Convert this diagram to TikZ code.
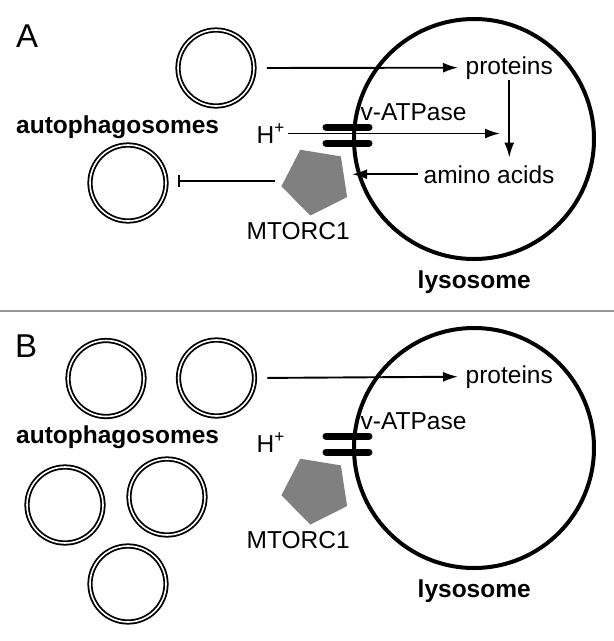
\documentclass[tikz,border=0pt]{standalone}
\usepackage{fontspec}
\setmainfont{Liberation Sans}
\usetikzlibrary{arrows.meta,shapes.geometric}
\definecolor{mtorgray}{RGB}{128,128,128}
\definecolor{rulegray}{RGB}{150,150,150}

\begin{document}
\begin{tikzpicture}[x=1pt, y=-1pt, >={Latex[length=15pt,width=10pt]},
    every node/.style={inner sep=0pt, font=\fontsize{24.5}{29}\selectfont},
    paneltag/.style={font=\fontsize{33}{38}\selectfont},
    boldtxt/.style={font=\fontsize{24.5}{29}\selectfont\bfseries},
    lyso/.style={draw, circle, line width=4pt, minimum size=240pt},
    vesicle/.style={draw, circle, line width=1.8pt, double, double distance=1.6pt, minimum size=76pt},
    mtor/.style={regular polygon, regular polygon sides=5, fill=mtorgray, minimum size=70pt, shape border rotate=26.7},
    pump/.style={line width=7pt, line cap=round},
    flow/.style={->, line width=1.9pt},
    block/.style={-{Bar[width=12pt]}, line width=1.9pt}]

    % ==== FRAME ====
    \useasboundingbox (0,0) rectangle (614,641);
    \draw[rulegray, line width=1.5pt] (0,311) -- (614,311);

    % ==== PANEL A ====
    \node[paneltag, anchor=base west] (tagA) at (16,47) {A};
    \node[vesicle] (vesA1) at (216,68) {};
    \node[vesicle] (vesA2) at (128,183) {};
    \node[boldtxt, anchor=base west] (autoA) at (16,133) {autophagosomes};
    \node[lyso] (lysoA) at (474,139) {};
    \node[anchor=base west] (protA) at (465.5,74) {proteins};
    \node[anchor=base west] (aminoA) at (423.5,183) {amino acids};
    \node[anchor=base west] (vatpA) at (360.5,120) {v-ATPase};
    \node[anchor=base west] (hA) at (256.5,143) {H\textsuperscript{+}};
    \node[mtor] (mtorA) at (316,181) {};
    \node[anchor=base west] (mlabA) at (246.5,239) {MTORC1};
    \node[boldtxt, anchor=base west] (llabA) at (417.5,288) {lysosome};
    \coordinate (hEndA) at (500,135);

    % v-ATPase bars
    \draw[pump] (326,127) -- (369,127);
    \draw[pump] (326,143) -- (369,143);

    % ==== ARROWS A ====
    \draw[flow, shorten <=12pt, shorten >=7.5pt] (vesA1.east) -- (protA.west);
    \draw[flow, shorten <=1pt, shorten >=7.5pt] (protA.south) -- (protA.south |- aminoA.north);
    \draw[flow, shorten <=3pt] (hA.east) -- (hA.east -| hEndA);
    \draw[flow, shorten <=5.5pt] (aminoA.west) -- (aminoA.west -| lysoA.west);
    \draw[block, shorten <=9pt, shorten >=11pt] (mtorA.west) -- (mtorA.west -| vesA2.east);

    % ==== PANEL B ====
    \begin{scope}[shift={(0,309)}]
        \node[paneltag, anchor=base west] (tagB) at (15,48) {B};
        \node[vesicle] (vesB1) at (106,69.5) {};
        \node[vesicle] (vesB2) at (216.5,69) {};
        \node[vesicle] (vesB3) at (65,196) {};
        \node[vesicle] (vesB4) at (167,188) {};
        \node[vesicle] (vesB5) at (128,275) {};
        \node[boldtxt, anchor=base west] (autoB) at (16,134) {autophagosomes};
        \node[lyso] (lysoB) at (474,139) {};
        \node[anchor=base west] (protB) at (465.5,74) {proteins};
        \node[anchor=base west] (vatpB) at (360.5,120) {v-ATPase};
        \node[anchor=base west] (hB) at (256.5,143) {H\textsuperscript{+}};
        \node[mtor] (mtorB) at (316,181) {};
        \node[anchor=base west] (mlabB) at (246.5,239) {MTORC1};
        \node[boldtxt, anchor=base west] (llabB) at (417.5,288) {lysosome};

        % v-ATPase bars
        \draw[pump] (326,127) -- (369,127);
        \draw[pump] (326,143) -- (369,143);

        % ==== ARROW B ====
        \draw[flow, shorten <=12pt, shorten >=7.5pt] (vesB2.east) -- (protB.west);
    \end{scope}

\end{tikzpicture}
\end{document}
